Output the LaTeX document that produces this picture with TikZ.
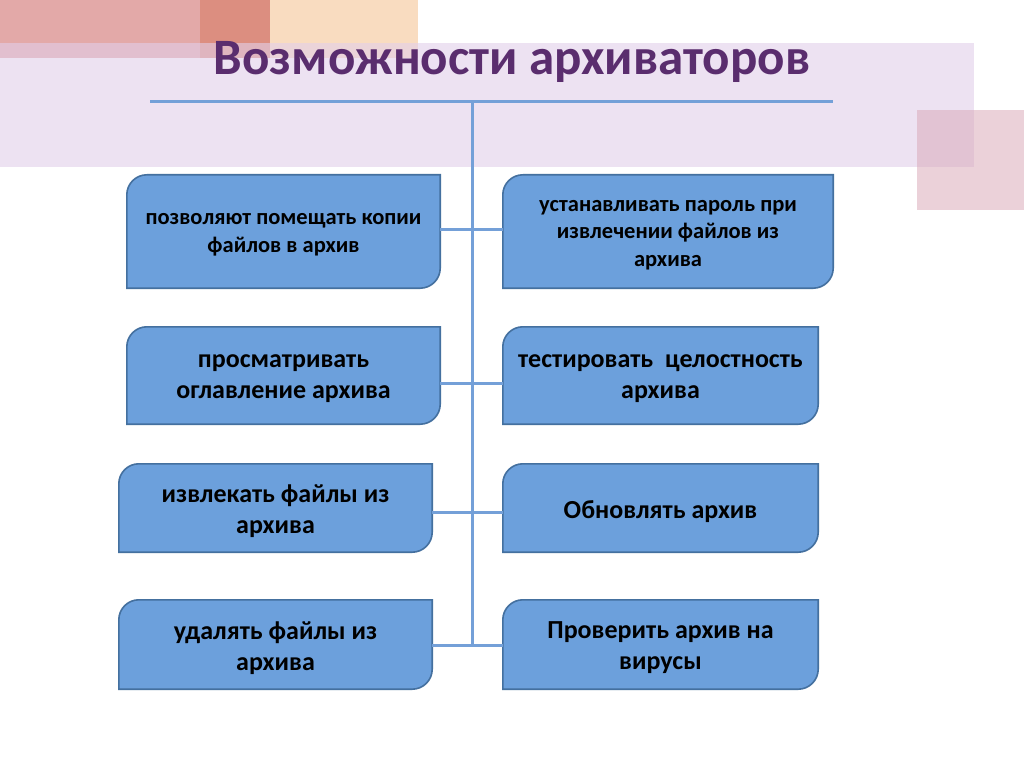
\documentclass[tikz,border=0pt]{standalone}
\usepackage{fontspec}
\setmainfont{Carlito}
\usetikzlibrary{calc,backgrounds}
\definecolor{pinkA}{HTML}{E3A9A8}
\definecolor{pinkB}{HTML}{DC8E80}
\definecolor{peach}{HTML}{F9DCC0}
\definecolor{lav}{HTML}{E2CFEA}
\definecolor{rblock}{HTML}{D9A5B5}
\definecolor{boxfill}{HTML}{6CA0DC}
\definecolor{boxedge}{HTML}{44709F}
\definecolor{linec}{HTML}{74A0D8}
\definecolor{titlec}{HTML}{5A2D6E}
\tikzset{
  boxtext/.style={align=center, inner sep=0pt, font=\bfseries\fontsize{26}{31}\selectfont},
  smalltext/.style={font=\bfseries\fontsize{22.5}{27.5}\selectfont},
  boxshape/.style={fill=boxfill, draw=boxedge, line width=1.6pt},
  conn/.style={draw=linec, line width=3pt}
}
% shape of a box: rounded top-left and bottom-right corners, drawn 3.5 px above the node's text centre
\newcommand\drawbox[1]{%
  \coordinate (bNW) at ($(#1.north west)+(0,-3.5)$);
  \coordinate (bSE) at ($(#1.south east)+(0,-3.5)$);
  \coordinate (bSW) at (bNW |- bSE);
  \coordinate (bNE) at (bSE |- bNW);
  \path[boxshape] ($(bNW)+(0,20)$) -- (bSW) -- ($(bSE)+(-20,0)$)
    .. controls ($(bSE)+(-9,0)$) and ($(bSE)+(0,-9)$) .. ($(bSE)+(0,-20)$) -- (bNE)
    -- ($(bNW)+(20,0)$) .. controls ($(bNW)+(9,0)$) and ($(bNW)+(0,9)$) .. ($(bNW)+(0,20)$) -- cycle;}
\begin{document}
\begin{tikzpicture}[x=1pt,y=-1pt]
\useasboundingbox (0,0) rectangle (1024,767);
% title
\node[text=titlec, font=\bfseries\fontsize{51}{56}\selectfont] (title) at (512,62) {Возможности архиваторов};
% boxes
\node[boxtext, smalltext, minimum width=313, minimum height=113] (l1) at (283.5,235) {позволяют помещать копии\\файлов в архив};
\node[boxtext, smalltext, minimum width=330, minimum height=113] (r1) at (668,235) {устанавливать пароль при\\извлечении файлов из\\архива};
\node[boxtext, minimum width=313, minimum height=97] (l2) at (283.5,379) {просматривать\\оглавление архива};
\node[boxtext, minimum width=315, minimum height=97] (r2) at (660.5,379) {тестировать\ \ целостность\\архива};
\node[boxtext, minimum width=313, minimum height=88] (l3) at (275.5,511.5) {извлекать файлы из\\архива};
\node[boxtext, minimum width=315, minimum height=88] (r3) at (660.5,511.5) {Обновлять архив};
\node[boxtext, minimum width=313, minimum height=89] (l4) at (275.5,648) {удалять файлы из\\архива};
\node[boxtext, minimum width=315, minimum height=89] (r4) at (660.5,648) {Проверить архив на\\вирусы};
\begin{pgfonlayer}{background}
\fill[white] (0,0) rectangle (1024,767);
% decorations
\fill[peach] (270,0) rectangle (418,58);
\fill[pinkA] (0,0) rectangle (270,58);
\fill[pinkB] (200,0) rectangle (270,58);
\fill[lav, fill opacity=0.6] (0,43) rectangle (974,167);
\fill[rblock, fill opacity=0.5] (917,110) rectangle (1024,210);
\foreach \b in {l1,r1,l2,r2,l3,r3,l4,r4} {\drawbox{\b}}
\end{pgfonlayer}
% connectors
\coordinate (hl) at (150,102);
\coordinate (hr) at (833,102);
\coordinate (top) at (472,102);
\coordinate (j1) at (472,230);
\coordinate (j2) at (472,383);
\coordinate (j3) at (472,512);
\coordinate (j4) at (472,645);
\draw[conn] (hl) -- (hr);
\draw[conn] (top) -- (j4);
\draw[conn] (l1.east |- j1) -- (r1.west |- j1);
\draw[conn] (l2.east |- j2) -- (r2.west |- j2);
\draw[conn] (l3.east |- j3) -- (r3.west |- j3);
\draw[conn] (l4.east |- j4) -- (r4.west |- j4);
\end{tikzpicture}
\end{document}
